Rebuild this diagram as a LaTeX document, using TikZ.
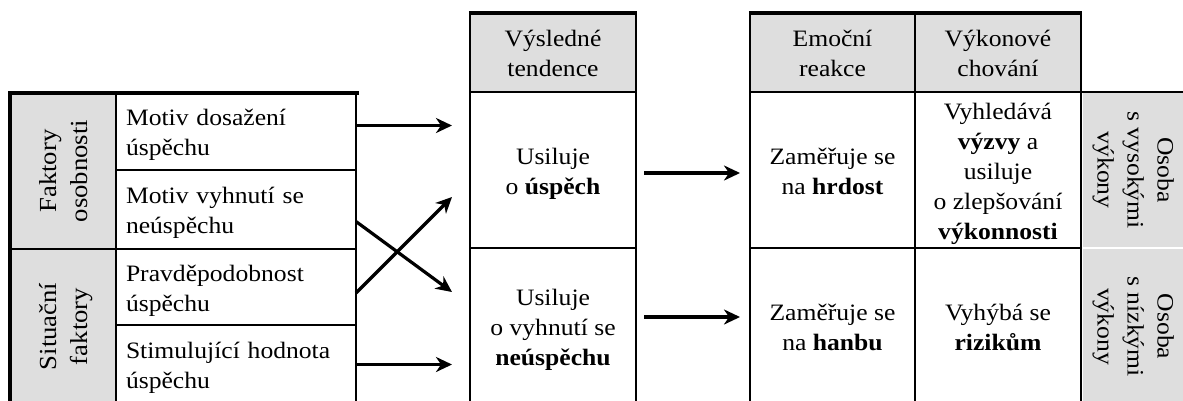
\documentclass[tikz,border=0pt]{standalone}
\usepackage{fontspec}
\setmainfont{Liberation Serif}[FakeStretch=1.09]
\usetikzlibrary{arrows.meta}
\definecolor{cellgray}{RGB}{222,222,222}
% line strut: 0.8 of the line spacing above the baseline, 0.2 below
\newcommand{\lstrut}{\rule[-.2\baselineskip]{0pt}{\baselineskip}}
\begin{document}
\begin{tikzpicture}[x=1pt,y=-1pt,
  every node/.style={font=\fontsize{23.5}{30}\selectfont, inner sep=0pt, outer sep=0pt},
  cell/.style={draw, line width=2.5pt, align=center},
  shade/.style={cell, fill=cellgray},
  sidetext/.style={font=\fontsize{24.5}{31}\selectfont},
  lefttext/.style={cell, align=left, text width=220pt, inner xsep=10pt, minimum width=240pt},
  arr/.style={line width=3.2pt, -{Stealth[length=16pt,width=15pt,inset=5pt]}},
  rim/.style={line width=4pt}]
\useasboundingbox (0,0) rectangle (1183,400);

% factors
\node[shade, sidetext, rotate=90, minimum width=156pt, minimum height=106pt] (fo) at (63,171)
  {\lstrut Faktory\\\lstrut osobnosti};
\node[shade, sidetext, rotate=90, minimum width=155pt, minimum height=106pt] (sf) at (63,326.5)
  {\lstrut Situační\\\lstrut faktory};
\node[lefttext, minimum height=77pt] (m1) at (236,131.5) {\lstrut Motiv dosažení\\\lstrut úspěchu};
\node[lefttext, minimum height=79pt] (m2) at (236,209.5) {\lstrut Motiv vyhnutí se\\\lstrut neúspěchu};
\node[lefttext, minimum height=76pt] (m3) at (236,287) {\lstrut Pravděpodobnost\\\lstrut úspěchu};
\node[lefttext, minimum height=79pt] (m4) at (236,364.5) {\lstrut Stimulující hodnota\\\lstrut úspěchu};
\draw[rim] ([xshift=-2pt]fo.north east) -- ([xshift=3pt]m1.north east);
\draw[rim] (fo.north east) -- (sf.north west);

% resulting tendencies
\node[shade, minimum width=166pt, minimum height=79pt] (th) at (553,52.5) {\lstrut Výsledné\\\lstrut tendence};
\node[cell, minimum width=166pt, minimum height=156pt] (t1) at (553,170)
  {\lstrut Usiluje\\\lstrut o \textbf{úspěch}};
\node[cell, minimum width=166pt, minimum height=156pt] (t2) at (553,326)
  {\lstrut Usiluje\\\lstrut o vyhnutí se\\\lstrut\textbf{neúspěchu}};
\draw[rim] ([xshift=-1.25pt]th.north west) -- ([xshift=1.25pt]th.north east);

% emotions and behaviour
\node[shade, minimum width=165pt, minimum height=79pt] (eh) at (832.5,52.5) {\lstrut Emoční\\\lstrut reakce};
\node[shade, minimum width=166pt, minimum height=79pt] (vh) at (998,52.5) {\lstrut Výkonové\\\lstrut chování};
\node[cell, minimum width=165pt, minimum height=156pt] (e1) at (832.5,170)
  {\lstrut Zaměřuje se\\\lstrut na \textbf{hrdost}};
\node[cell, minimum width=166pt, minimum height=156pt] (v1) at (998,170)
  {\lstrut Vyhledává\\\lstrut\textbf{výzvy} a\\\lstrut usiluje\\\lstrut o zlepšování\\\lstrut\textbf{výkonnosti}};
\node[cell, minimum width=165pt, minimum height=156pt] (e2) at (832.5,326)
  {\lstrut Zaměřuje se\\\lstrut na \textbf{hanbu}};
\node[cell, minimum width=166pt, minimum height=156pt] (v2) at (998,326)
  {\lstrut Vyhýbá se\\\lstrut\textbf{rizikům}};
\node[fill=cellgray, align=center, rotate=-90, minimum width=154pt, minimum height=107pt] (o1) at (1136.5,170)
  {\lstrut Osoba\\\lstrut s vysokými\\\lstrut výkony};
\node[fill=cellgray, align=center, rotate=-90, minimum width=155pt, minimum height=107pt] (o2) at (1136.5,326.5)
  {\lstrut Osoba\\\lstrut s nízkými\\\lstrut výkony};
\draw[rim] ([xshift=-1.25pt]eh.north west) -- ([xshift=1.25pt]vh.north east);
\draw[line width=2.5pt] (vh.south east) -- (vh.south east -| o1.north);

% connectors
\coordinate (cr1) at (452,292);
\coordinate (cr2) at (452,197);
\draw[arr, shorten >=18pt] ([yshift=6pt]m1.east) -- ([yshift=6pt]m1.east -| t1.west);
\draw[arr] ([yshift=-12pt]m2.east) -- (cr1);
\draw[arr] ([yshift=-6pt]m3.east) -- (cr2);
\draw[arr, shorten >=18pt] (m4.east) -- (m4.east -| t2.west);
\draw[arr, shorten <=8pt, shorten >=10pt] ([yshift=-3pt]t1.east) -- ([yshift=-3pt]t1.east -| e1.west);
\draw[arr, shorten <=8pt, shorten >=10pt] ([yshift=9pt]t2.east) -- ([yshift=9pt]t2.east -| e2.west);
\end{tikzpicture}
\end{document}
